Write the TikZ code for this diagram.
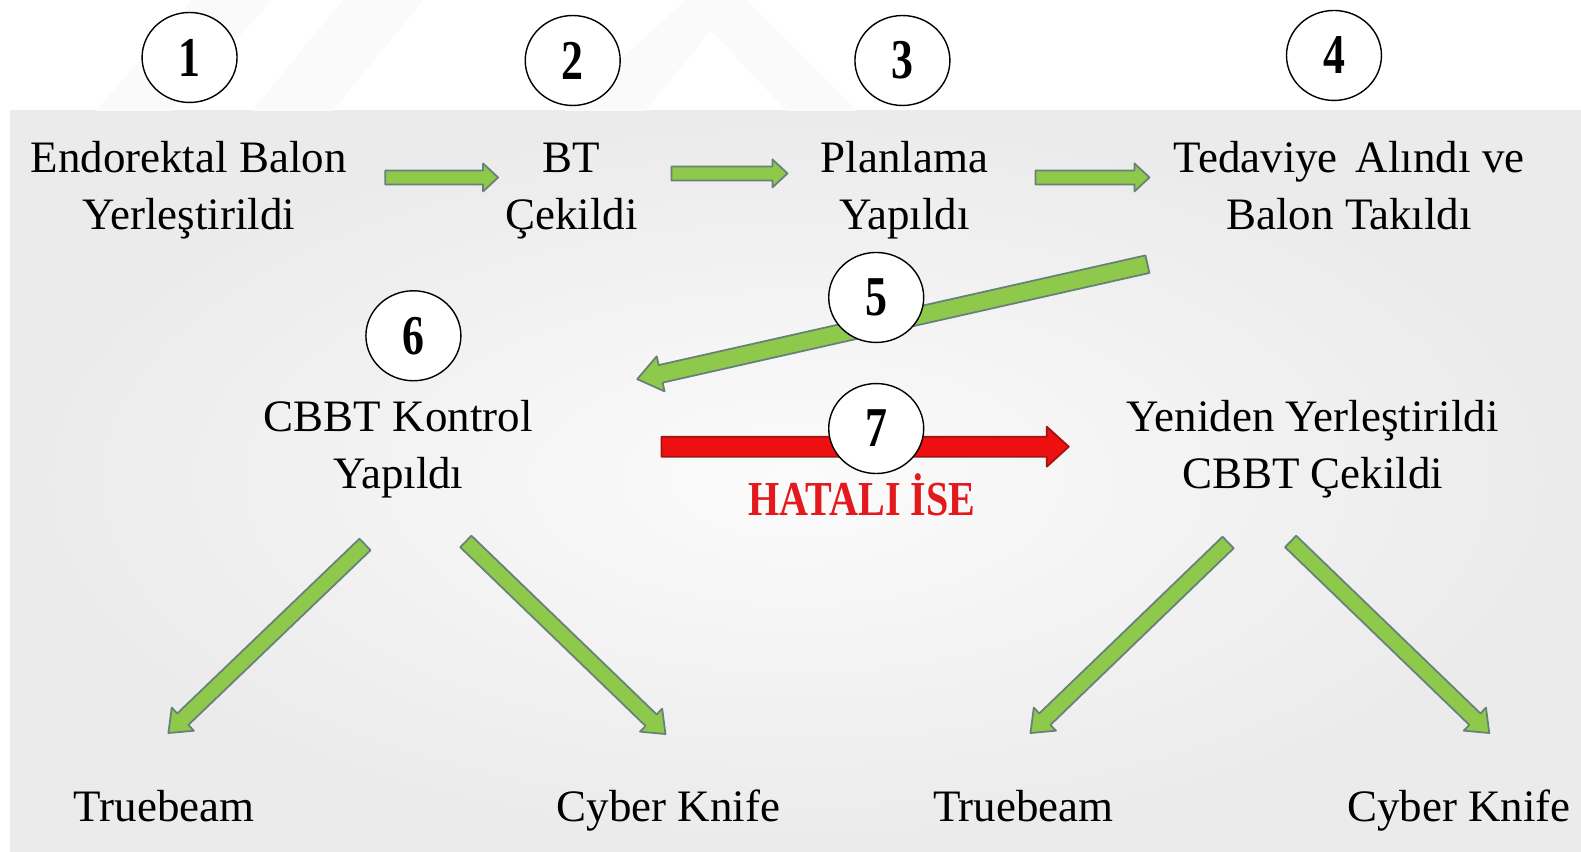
\documentclass[tikz,border=0pt]{standalone}
\usepackage{fontspec}
\setmainfont{Liberation Serif}
\usetikzlibrary{shapes.geometric, calc, positioning}

\definecolor{arrowgreen}{RGB}{142,201,76}
\definecolor{arrowedge}{RGB}{104,128,122}
\definecolor{arrowred}{RGB}{238,16,16}
\definecolor{rededge}{RGB}{160,20,20}
\definecolor{hatared}{RGB}{226,26,30}

\newcommand{\narrow}[2][0.78]{\scalebox{#1}[1]{#2}}
\newcommand{\blockarrow}[6][]{%
  \coordinate (ba-h) at ($(#3)!#6!(#2)$);
  \draw[#1] ($(#2)!#4!90:(#3)$) -- ($(ba-h)!#4!90:(#3)$) -- ($(ba-h)!#5!90:(#3)$)
    -- (#3) -- ($(ba-h)!#5!-90:(#3)$) -- ($(ba-h)!#4!-90:(#3)$) -- ($(#2)!#4!-90:(#3)$) -- cycle;
}

\begin{document}
\begin{tikzpicture}[x=0.010083cm, y=-0.010083cm,
    stage/.style = {anchor=base, align=center, font=\fontsize{12.8}{16.2}\selectfont},
    num/.style = {draw, ellipse, fill=white, inner sep=0pt, minimum width=0.95cm,
                  minimum height=0.9cm, font=\fontsize{16}{18}\selectfont\bfseries},
    okarrow/.style = {fill=arrowgreen, draw=arrowedge, line width=0.5pt, line join=round},
    faultarrow/.style = {fill=arrowred, draw=rededge, line width=0.5pt, line join=round}]
    \useasboundingbox (0,0) rectangle (1568,844);
    \shade[inner color=gray!3, outer color=gray!16] (10,110) rectangle (1568,844);
    \fill[gray!4] (95,110) -- (170,110) -- (270,0) -- (190,0) -- cycle;
    \fill[gray!4] (250,110) -- (330,110) -- (420,0) -- (340,0) -- cycle;
    \fill[gray!4] (560,110) -- (680,0) -- (740,0) -- (850,110) -- (780,110)
                  -- (705,30) -- (640,110) -- cycle;

    \node[stage] (balon) at (187,228) {Endorektal Balon\\Yerleştirildi};
    \node[stage] (bt) at (567,228) {BT\\Çekildi};
    \node[stage] (plan) at (897,228) {Planlama\\Yapıldı};
    \node[stage] (tedavi) at (1338,228) {Tedaviye\hspace{0.15em} Alındı ve\\Balon Takıldı};
    \node[stage] (cbbt) at (395,484) {CBBT Kontrol\\Yapıldı};
    \node[stage] (yeniden) at (1302,484) {Yeniden Yerleştirildi\\CBBT Çekildi};
    \node[anchor=base, text=hatared, font=\fontsize{13.9}{16}\selectfont\bfseries]
        (hatali) at (855,511) {\narrow[0.82]{HATALI İSE}};
    \node[stage] (tb1) at (163,815) {Truebeam};
    \node[stage] (ck1) at (663,815) {Cyber Knife};
    \node[stage] (tb2) at (1015,815) {Truebeam};
    \node[stage] (ck2) at (1447,815) {Cyber Knife};

    \coordinate (a12s) at (382,176);  \coordinate (a12e) at (494,176);
    \coordinate (a23s) at (666,172);  \coordinate (a23e) at (781,172);
    \coordinate (a34s) at (1027,176); \coordinate (a34e) at (1140,176);
    \coordinate (a45s) at (1138,262); \coordinate (a45e) at (632,376);
    \coordinate (a6ts) at (362,540);  \coordinate (a6te) at (167,727);
    \coordinate (a6cs) at (462,537);  \coordinate (a6ce) at (660,728);
    \coordinate (a7s) at (656,443);   \coordinate (a7e) at (1060,443);
    \coordinate (a7ts) at (1218,538); \coordinate (a7te) at (1022,727);
    \coordinate (a7cs) at (1280,537); \coordinate (a7ce) at (1477,727);

    \blockarrow[okarrow]{a12s}{a12e}{0.07cm}{0.14cm}{0.15cm}
    \blockarrow[okarrow]{a23s}{a23e}{0.07cm}{0.14cm}{0.15cm}
    \blockarrow[okarrow]{a34s}{a34e}{0.07cm}{0.14cm}{0.15cm}
    \blockarrow[okarrow]{a45s}{a45e}{0.09cm}{0.18cm}{0.24cm}
    \blockarrow[okarrow]{a6ts}{a6te}{0.08cm}{0.16cm}{0.2cm}
    \blockarrow[okarrow]{a6cs}{a6ce}{0.08cm}{0.16cm}{0.2cm}
    \blockarrow[faultarrow]{a7s}{a7e}{0.1cm}{0.2cm}{0.22cm}
    \blockarrow[okarrow]{a7ts}{a7te}{0.08cm}{0.16cm}{0.2cm}
    \blockarrow[okarrow]{a7cs}{a7ce}{0.08cm}{0.16cm}{0.2cm}

    \node[num] (n1) at (188,57) {\narrow{1}};
    \node[num] (n2) at (568,60) {\narrow{2}};
    \node[num] (n3) at (895,60) {\narrow{3}};
    \node[num] (n4) at (1323,55) {\narrow{4}};
    \node[num] (n5) at (869,295) {\narrow{5}};
    \node[num] (n6) at (410,333) {\narrow{6}};
    \node[num] (n7) at (869,425) {\narrow{7}};
\end{tikzpicture}
\end{document}
